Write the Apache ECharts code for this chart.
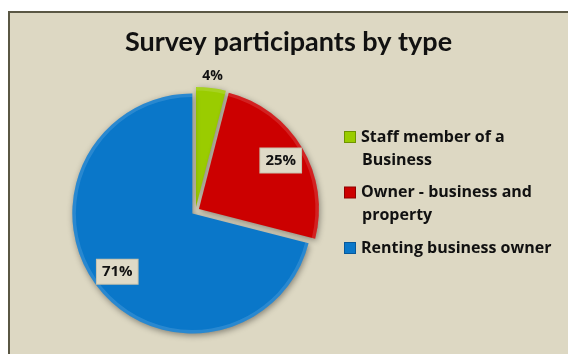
<!DOCTYPE html>
<html>
<head>
<meta charset="utf-8">
<script src="https://cdn.jsdelivr.net/npm/echarts@6/dist/echarts.min.js"></script>
<style>
  html, body { margin: 0; padding: 0; background: #ffffff; overflow: hidden; }
  #frame {
    position: absolute; left: 8px; top: 11px; width: 560px; height: 343px;
    background: #DDD8C3; border-left: 2px solid #5a5744; border-top: 2px solid #5a5744;
  }
  #chart { position: absolute; left: 0; top: 0; width: 568px; height: 354px; }
</style>
</head>
<body>
<div id="frame"></div>
<div id="chart"></div>
<script>
// Survey participants by type (share of respondents, %)
const categories = ['Staff member of a\nBusiness', 'Owner - business and\nproperty', 'Renting business owner'];
const shares = [4, 25, 71];
const sliceColors = ['#9ACC00', '#CC0000', '#0A77C9'];
const iconBorders = ['#6f9400', '#8f0000', '#07589a'];

const TITLE_FONT = 'Lato, "Open Sans", sans-serif';
const TEXT_FONT = '"Open Sans", Lato, sans-serif';
const pieCenter = [195.5, 211];
const pieRadius = 120;
const explode = 4;

function sliceData(colorFn) {
  return categories.map((name, i) => ({
    name,
    value: shares[i],
    selected: true,
    itemStyle: { color: colorFn(i) }
  }));
}

function ringBase(radius) {
  return {
    type: 'pie',
    center: pieCenter,
    radius,
    startAngle: 90,
    clockwise: true,
    selectedMode: 'multiple',
    selectedOffset: explode,
    silent: true,
    labelLine: { show: false }
  };
}

// Light rim along the outer edge of each slice (bevel highlight)
function rimRing() {
  return Object.assign(ringBase([pieRadius - 3.5, pieRadius]), {
    z: 3,
    data: sliceData(() => 'rgba(255,255,255,0.13)'),
    label: { show: false }
  });
}

// Transparent ring used only to place value labels at a chosen distance
function labelRing(radius, shown, boxed) {
  return Object.assign(ringBase(radius), {
    z: 5,
    data: sliceData(() => 'rgba(0,0,0,0)').map((d, i) => Object.assign(d, {
      label: { show: shown.includes(i) }
    })),
    label: Object.assign({
      position: 'inside',
      formatter: '{c}%',
      color: '#111',
      fontFamily: TEXT_FONT,
      fontWeight: 'bold',
      fontSize: boxed ? 15 : 14
    }, boxed ? {
      backgroundColor: '#DFDAC7',
      borderColor: '#c7c2ac',
      borderWidth: 1,
      padding: [5, 5, 4, 5]
    } : {})
  });
}

const legendRich = {
  t: { fontFamily: TEXT_FONT, fontWeight: 'bold', fontSize: 16, color: '#111', padding: [0, 0, 0, 6] },
  sp: { width: 11 }
};
sliceColors.forEach((c, i) => {
  legendRich['k' + i] = { width: 10, height: 10, backgroundColor: c, borderColor: iconBorders[i], borderWidth: 1 };
});

const chart = echarts.init(document.getElementById('chart'), null, { renderer: 'canvas' });
chart.setOption({
  animation: false,
  backgroundColor: 'transparent',
  title: {
    text: 'Survey participants by type',
    left: 288.5,
    textAlign: 'center',
    top: 29,
    padding: 0,
    textStyle: { fontFamily: TITLE_FONT, fontWeight: 'bold', fontSize: 27, color: '#111' }
  },
  legend: {
    orient: 'vertical',
    left: 340,
    top: 125.5,
    padding: 0,
    itemWidth: 0,
    itemHeight: 0,
    itemGap: 9.5,
    icon: 'none',
    selectedMode: false,
    data: categories,
    textStyle: { fontFamily: TEXT_FONT, fontWeight: 'bold', fontSize: 16, lineHeight: 23, color: '#111', rich: legendRich },
    formatter: name => {
      const i = categories.indexOf(name);
      return name.split('\n').map((line, k) => (k === 0 ? '{k' + i + '|}' : '{sp|}') + '{t|' + line + '}').join('\n');
    }
  },
  series: [
    Object.assign(ringBase(pieRadius), {
      data: sliceData(i => sliceColors[i]),
      label: { show: false },
      itemStyle: {
        shadowBlur: 6,
        shadowColor: 'rgba(0,0,0,0.4)',
        shadowOffsetX: 1,
        shadowOffsetY: 2
      }
    }),
    rimRing(),
    labelRing([64, pieRadius], [1, 2], true),
    labelRing([pieRadius, 138], [0], false)
  ]
});
</script>
</body>
</html>
